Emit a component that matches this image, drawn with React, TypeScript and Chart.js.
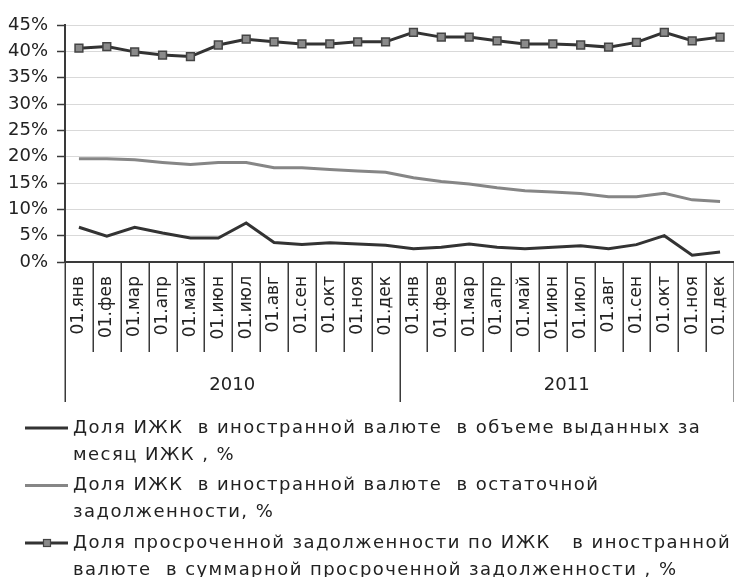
import React, { useEffect, useRef } from 'react';
import { Chart, registerables } from 'chart.js';

Chart.register(...registerables);

// Month labels repeated for each year of the two-level category axis
const months = ['01.янв', '01.фев', '01.мар', '01.апр', '01.май', '01.июн', '01.июл', '01.авг', '01.сен', '01.окт', '01.ноя', '01.дек'];
const years = ['2010', '2011'];
const categories = years.flatMap(() => months);

// Share of foreign-currency mortgages in loans issued during the month, %
const issuedShare = [6.6, 4.9, 6.6, 5.5, 4.55, 4.55, 7.4, 3.7, 3.3, 3.65, 3.4, 3.2, 2.5, 2.8, 3.4, 2.8, 2.5, 2.8, 3.1, 2.5, 3.3, 5.0, 1.3, 1.9];
// Share of foreign-currency mortgages in outstanding debt, %
const outstandingShare = [19.6, 19.6, 19.4, 18.9, 18.5, 18.9, 18.9, 17.9, 17.9, 17.55, 17.3, 17.05, 16.0, 15.3, 14.8, 14.1, 13.55, 13.3, 13.0, 12.4, 12.4, 13.05, 11.8, 11.5];
// Share of foreign-currency overdue debt in total overdue mortgage debt, %
const overdueShare = [40.6, 40.9, 39.9, 39.3, 39.0, 41.2, 42.3, 41.8, 41.4, 41.4, 41.8, 41.8, 43.6, 42.7, 42.7, 42.0, 41.4, 41.4, 41.2, 40.8, 41.7, 43.6, 42.0, 42.7];

const yMin = 0;
const yMax = 45;
const yStep = 5;

const legendLines = [
  ['Доля ИЖК  в иностранной валюте  в объеме выданных за', 'месяц ИЖК , %'],
  ['Доля ИЖК  в иностранной валюте  в остаточной', 'задолженности, %'],
  ['Доля просроченной задолженности по ИЖК   в иностранной', 'валюте  в суммарной просроченной задолженности , %'],
];

const FONT = "'DejaVu Sans', sans-serif";
const TEXT = '#222222';
const AXIS = '#3a3a3a';

// Draws the month dividers, the year dividers and the year captions under the x axis
const axisDecor = {
  id: 'axisDecor',
  afterDraw(chart: any) {
    const { ctx, chartArea, scales } = chart;
    const x = scales.x;
    const step = x.getPixelForValue(1) - x.getPixelForValue(0);
    const start = x.getPixelForValue(0) - step / 2;
    ctx.save();
    ctx.strokeStyle = AXIS;
    ctx.lineWidth = 1.5;
    for (let i = 0; i <= categories.length; i++) {
      const px = Math.round(start + i * step) + 0.25;
      const len = i % months.length === 0 ? 140 : 90;
      ctx.beginPath();
      ctx.moveTo(px, chartArea.bottom);
      ctx.lineTo(px, chartArea.bottom + len);
      ctx.stroke();
    }
    ctx.fillStyle = TEXT;
    ctx.font = `18px ${FONT}`;
    ctx.textAlign = 'center';
    ctx.textBaseline = 'middle';
    years.forEach((yr, k) => {
      const cx = start + (k * months.length + months.length / 2) * step;
      ctx.fillText(yr, cx, chartArea.bottom + 123);
    });
    ctx.restore();
  },
};

// Legend with wrapped captions below the axis
const wrappedLegend = {
  id: 'wrappedLegend',
  afterDraw(chart: any) {
    const { ctx } = chart;
    const top = 428;
    const lineGap = 27;
    const itemGap = 57.5;
    ctx.save();
    chart.data.datasets.forEach((ds: any, i: number) => {
      const y = top + i * itemGap;
      ctx.strokeStyle = ds.borderColor;
      ctx.lineWidth = ds.borderWidth;
      ctx.beginPath();
      ctx.moveTo(25, y);
      ctx.lineTo(68, y);
      ctx.stroke();
      if (ds.pointRadius > 0) {
        ctx.fillStyle = ds.pointBackgroundColor;
        ctx.strokeStyle = ds.pointBorderColor;
        ctx.lineWidth = 1.2;
        ctx.fillRect(43.5, y - 3.5, 7, 7);
        ctx.strokeRect(43.5, y - 3.5, 7, 7);
      }
      ctx.fillStyle = TEXT;
      ctx.font = `18px ${FONT}`;
      ctx.letterSpacing = '1.45px';
      ctx.textAlign = 'left';
      ctx.textBaseline = 'middle';
      legendLines[i].forEach((line, j) => {
        ctx.fillText(line, 73, y + j * lineGap);
      });
    });
    ctx.restore();
  },
};

export default function App() {
  const canvasRef = useRef<HTMLCanvasElement | null>(null);

  useEffect(() => {
    document.body.style.margin = '0';
    const canvas = canvasRef.current;
    if (!canvas) return;
    const chart = new Chart(canvas, {
      type: 'line',
      data: {
        labels: categories,
        datasets: [
          {
            label: legendLines[0].join(' '),
            data: issuedShare,
            borderColor: '#333333',
            borderWidth: 3,
            pointRadius: 0,
            tension: 0,
          },
          {
            label: legendLines[1].join(' '),
            data: outstandingShare,
            borderColor: '#868686',
            borderWidth: 3,
            pointRadius: 0,
            tension: 0,
          },
          {
            label: legendLines[2].join(' '),
            data: overdueShare,
            borderColor: '#333333',
            borderWidth: 3,
            pointStyle: 'rect',
            pointRadius: 5.5,
            pointBackgroundColor: '#8a8a8a',
            pointBorderColor: '#444444',
            pointBorderWidth: 1.5,
            tension: 0,
          },
        ],
      },
      options: {
        responsive: false,
        animation: false,
        devicePixelRatio: 1,
        layout: { autoPadding: false, padding: { top: 25, left: 0, right: -4, bottom: 172 } },
        plugins: {
          legend: { display: false },
          tooltip: { enabled: false },
        },
        scales: {
          x: {
            type: 'category',
            offset: true,
            grid: { display: false, drawTicks: false },
            border: { display: true, color: AXIS, width: 2 },
            ticks: {
              autoSkip: false,
              minRotation: 90,
              maxRotation: 90,
              padding: 14,
              color: TEXT,
              font: { family: FONT, size: 17 },
            },
            afterFit: (s: any) => {
              s.height = 143;
              s.paddingLeft = 0;
              s.paddingRight = 0;
            },
          },
          y: {
            min: yMin,
            max: yMax,
            ticks: {
              stepSize: yStep,
              padding: 9,
              color: TEXT,
              font: { family: FONT, size: 18 },
              callback: (v: any) => `${v}%`,
            },
            grid: { color: '#d9d9d9', lineWidth: 1, tickLength: 8, tickColor: AXIS, tickWidth: 1.5 },
            border: { color: AXIS, width: 2 },
            afterFit: (s: any) => {
              s.width = 65;
              s.paddingTop = 0;
              s.paddingBottom = 0;
            },
          },
        },
      },
      plugins: [axisDecor, wrappedLegend],
    });
    return () => chart.destroy();
  }, []);

  return (
    <div style={{ width: 734, height: 577 }}>
      <canvas ref={canvasRef} width={734} height={577} style={{ display: 'block' }} />
    </div>
  );
}
